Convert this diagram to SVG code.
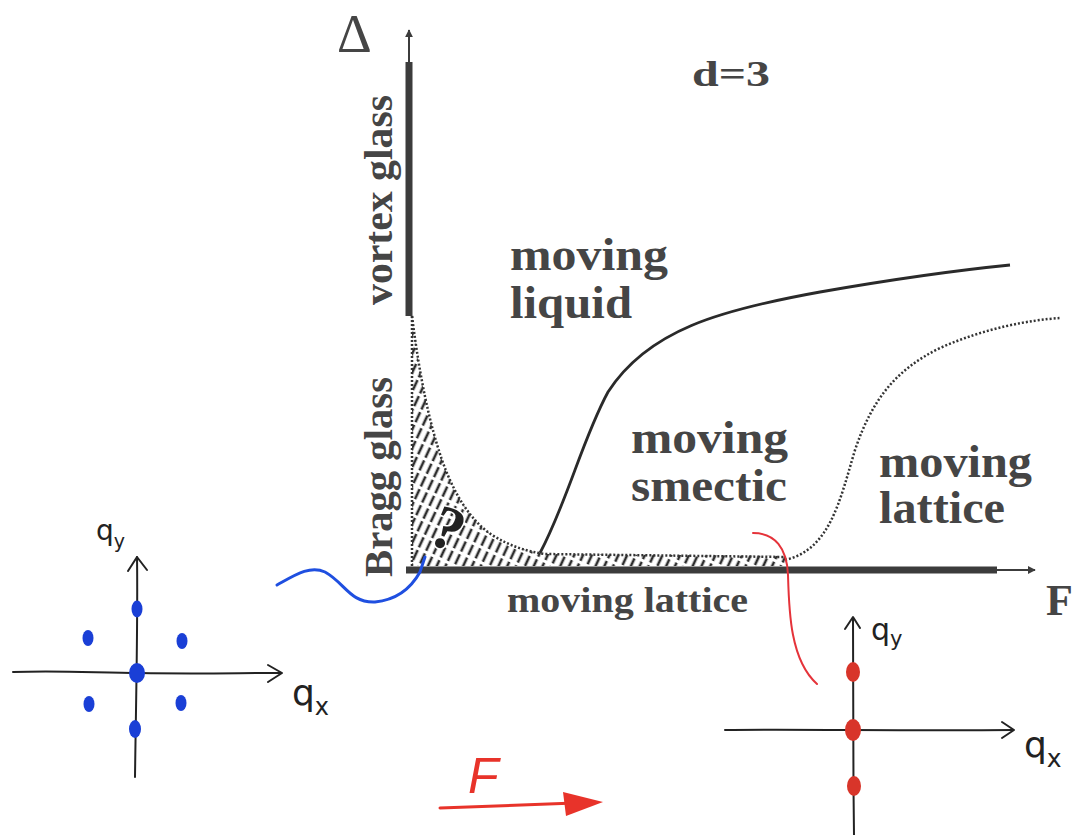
<svg xmlns="http://www.w3.org/2000/svg" width="1087" height="835" viewBox="0 0 1087 835">
<defs>
<style>
.lbl{font-family:"Liberation Serif",serif;font-weight:bold;fill:#454545}
.hand{font-family:"DejaVu Sans","Liberation Sans",sans-serif;fill:#222}
.ax{stroke:#3c3c3c;fill:none}
.ink{stroke:#222;stroke-width:2;fill:none;stroke-linecap:round;stroke-linejoin:round}
.dot{stroke:#333;stroke-width:2.5;fill:none;stroke-dasharray:2 2}
.blue{fill:#1a3fd6}
.red{fill:#d8352a}
</style>
<pattern id="hatch" width="8" height="14" patternUnits="userSpaceOnUse" patternTransform="rotate(25)">
<line x1="3" y1="0" x2="3" y2="14" stroke="#2e2e2e" stroke-width="2.6" stroke-dasharray="11 3"/>
</pattern>
<marker id="tri" viewBox="0 0 10 10" refX="9" refY="5" markerWidth="8" markerHeight="8" orient="auto" markerUnits="userSpaceOnUse">
<path d="M0,0 L10,5 L0,10 Z" fill="#3c3c3c"/>
</marker>
</defs>
<rect width="1087" height="835" fill="#fff"/>

<g id="connectors">
<line class="ax" x1="409" y1="62" x2="409" y2="316" stroke-width="7"/>
<line class="ax" x1="409" y1="64" x2="409" y2="30" stroke-width="2" marker-end="url(#tri)"/>
<line class="ax" x1="406" y1="570" x2="997" y2="570" stroke-width="7"/>
<line class="ax" x1="995" y1="570" x2="1035" y2="570" stroke-width="2" marker-end="url(#tri)"/>
</g>

<g id="hatched-region">
<path d="M412,316 C420,380 430,425 442,460 C454,494 470,520 492,535 C510,546 525,551 545,554 L785,556 L785,566 L412,566 Z" fill="url(#hatch)"/>
<path class="dot" d="M412,316 C420,380 430,425 442,460 C454,494 470,520 492,535 C510,546 525,551 545,554 L785,557"/>
<line class="dot" x1="412" y1="316" x2="412" y2="566"/>
<text x="0" y="0" font-family="Liberation Serif,serif" font-weight="bold" font-size="62" fill="#222" stroke="#fff" stroke-width="3" paint-order="stroke" transform="translate(426,542) rotate(22)">?</text>
</g>

<g id="solid-boundary">
<path d="M540,553 C568,500 582,440 608,392 C648,330 720,310 820,292 C900,278 960,270 1010,265" stroke="#2a2a2a" stroke-width="2.8" fill="none"/>
</g>
<g id="dotted-boundary">
<path class="dot" d="M785,560 C830,550 840,500 855,450 C872,400 895,370 940,348 C985,328 1030,320 1060,318"/>
</g>

<g id="axis-labels">
<text x="337" y="52" font-family="Liberation Serif,serif" font-size="54" fill="#454545">Δ</text>
<text class="lbl" x="1046" y="615" font-size="44">F</text>
<text class="lbl" x="692" y="86" font-size="36" textLength="78" lengthAdjust="spacingAndGlyphs">d=3</text>
</g>

<g id="vortex-glass">
<text class="lbl" font-size="40" transform="translate(392,305) rotate(-90)" textLength="210" lengthAdjust="spacingAndGlyphs">vortex glass</text>
</g>
<g id="bragg-glass">
<text class="lbl" font-size="40" transform="translate(392,577) rotate(-90)" textLength="200" lengthAdjust="spacingAndGlyphs">Bragg glass</text>
</g>
<g id="moving-liquid">
<text class="lbl" x="510" y="270" font-size="46" textLength="158" lengthAdjust="spacingAndGlyphs">moving</text>
<text class="lbl" x="510" y="318" font-size="46" textLength="122" lengthAdjust="spacingAndGlyphs">liquid</text>
</g>
<g id="moving-smectic">
<text class="lbl" x="631" y="453" font-size="46" textLength="157" lengthAdjust="spacingAndGlyphs">moving</text>
<text class="lbl" x="631" y="501" font-size="46" textLength="156" lengthAdjust="spacingAndGlyphs">smectic</text>
</g>
<g id="moving-lattice-upper">
<text class="lbl" x="879" y="477" font-size="46" textLength="153" lengthAdjust="spacingAndGlyphs">moving</text>
<text class="lbl" x="879" y="523" font-size="46" textLength="126" lengthAdjust="spacingAndGlyphs">lattice</text>
</g>
<g id="moving-lattice-lower">
<text class="lbl" x="507" y="612" font-size="36" textLength="241" lengthAdjust="spacingAndGlyphs">moving lattice</text>
</g>

<g id="blue-curve">
<path d="M277,585 C295,575 310,565 325,572 C345,583 350,603 375,602 C395,600 410,590 420,572 L425,557" stroke="#1f4fe0" stroke-width="3" fill="none" stroke-linecap="round"/>
</g>
<g id="red-curve">
<path d="M753,533 C775,533 787,548 788,575 C789,610 790,660 817,684" stroke="#e5333a" stroke-width="2" fill="none" stroke-linecap="round"/>
</g>

<g id="inset-left">
<path class="ink" d="M13,672 C60,670 100,673 140,673 C190,674 240,673 281,673"/>
<path class="ink" d="M268,665 L282,673 L268,682"/>
<path class="ink" d="M137,557 C138,620 136,700 135,777"/>
<path class="ink" d="M128,571 L137,557 L147,570"/>
<ellipse class="blue" cx="137" cy="609" rx="5.5" ry="8.5"/>
<ellipse class="blue" cx="88" cy="638" rx="5.5" ry="8"/>
<ellipse class="blue" cx="182" cy="641" rx="5.5" ry="8"/>
<ellipse class="blue" cx="137" cy="673" rx="8" ry="10"/>
<ellipse class="blue" cx="89" cy="704" rx="5.5" ry="8"/>
<ellipse class="blue" cx="181" cy="703" rx="5.5" ry="8"/>
<ellipse class="blue" cx="135" cy="729" rx="6" ry="9"/>
<text class="hand" x="96" y="540" font-size="28">q<tspan font-size="19" dy="8">y</tspan></text>
<text class="hand" x="292" y="705" font-size="36">q<tspan font-size="24" dy="10">x</tspan></text>
</g>

<g id="inset-right">
<path class="ink" d="M725,730 C800,729 900,731 1013,730"/>
<path class="ink" d="M1002,722 L1014,730 L1002,738"/>
<path class="ink" d="M853,618 C853,680 853,760 854,835"/>
<path class="ink" d="M845,629 L853,617 L860,628"/>
<ellipse class="red" cx="853" cy="672" rx="7" ry="10"/>
<ellipse class="red" cx="853" cy="730" rx="8" ry="11"/>
<ellipse class="red" cx="854" cy="786" rx="7" ry="10"/>
<text class="hand" x="871" y="640" font-size="30">q<tspan font-size="21" dy="6">y</tspan></text>
<text class="hand" x="1024" y="757" font-size="36">q<tspan font-size="25" dy="10">x</tspan></text>
</g>

<g id="force-arrow">
<line x1="440" y1="808" x2="575" y2="803" stroke="#e8332a" stroke-width="3" stroke-linecap="round"/>
<path d="M563,792 L603,802 L566,816 Z" fill="#e8332a"/>
<text x="468" y="793" font-family="Liberation Sans,sans-serif" font-style="italic" font-size="50" fill="#e8332a">F</text>
</g>
</svg>
